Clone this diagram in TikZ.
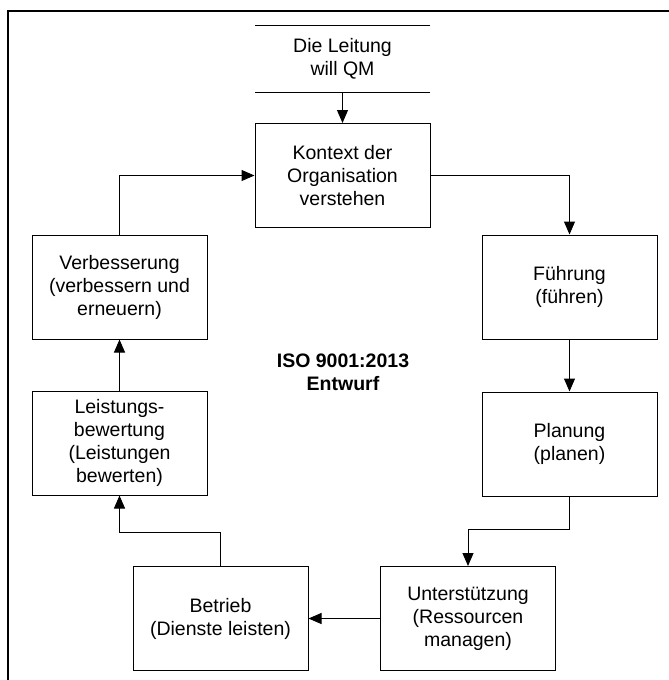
\documentclass[tikz,border=0pt]{standalone}
\usepackage{fontspec}
\setmainfont{Liberation Sans}
\usetikzlibrary{arrows.meta}

\begin{document}
\begin{tikzpicture}[x=1pt, y=-1pt]
\tikzset{every node/.style={font=\fontsize{19.5}{23}\selectfont, align=center}}
\tikzset{stepbox/.style={draw, line width=1pt, minimum width=175pt, minimum height=104pt, inner sep=0pt}}
\tikzset{conn/.style={line width=1pt, -{Triangle[length=13pt, width=11pt]}}}
\useasboundingbox (0,0) rectangle (669,680);
\draw[line width=2.5pt] (8,690) -- (8,11) -- (680,11);
\node[minimum width=175pt, minimum height=66pt, inner sep=0pt] (leitung) at (342.5,59) {Die Leitung\\will QM};
\draw[line width=1pt] (leitung.north west) -- (leitung.north east)
  (leitung.south west) -- (leitung.south east);
\node[stepbox] (kontext) at (342.5,175.5) {Kontext der\\Organisation\\verstehen};
\node[stepbox] (fuehrung) at (569.5,287) {Führung\\(führen)};
\node[stepbox] (planung) at (569.5,444) {Planung\\(planen)};
\node[stepbox] (unterst) at (468,618.5) {Unterstützung\\(Ressourcen\\managen)};
\node[stepbox] (betrieb) at (220.5,618.5) {Betrieb\\(Dienste leisten)};
\node[stepbox] (leistung) at (119.5,443) {Leistungs-\\bewertung\\(Leistungen\\bewerten)};
\node[stepbox] (verbess) at (119.5,287) {Verbesserung\\(verbessern und\\erneuern)};
\node[font=\bfseries\fontsize{19.5}{23}\selectfont] (iso) at (343,372) {ISO 9001:2013\\Entwurf};
\draw[conn] (leitung.south) -- (kontext.north);
\draw[conn] (kontext.east) -| (fuehrung.north);
\draw[conn] (fuehrung.south) -- (planung.north);
\draw[conn] (planung.south) -- ++(0,33) -| (unterst.north);
\draw[conn] (unterst.west) -- (betrieb.east);
\draw[conn] (betrieb.north) -- ++(0,-34) -| (leistung.south);
\draw[conn] (leistung.north) -- (verbess.south);
\draw[conn] (verbess.north) |- (kontext.west);
\end{tikzpicture}
\end{document}
